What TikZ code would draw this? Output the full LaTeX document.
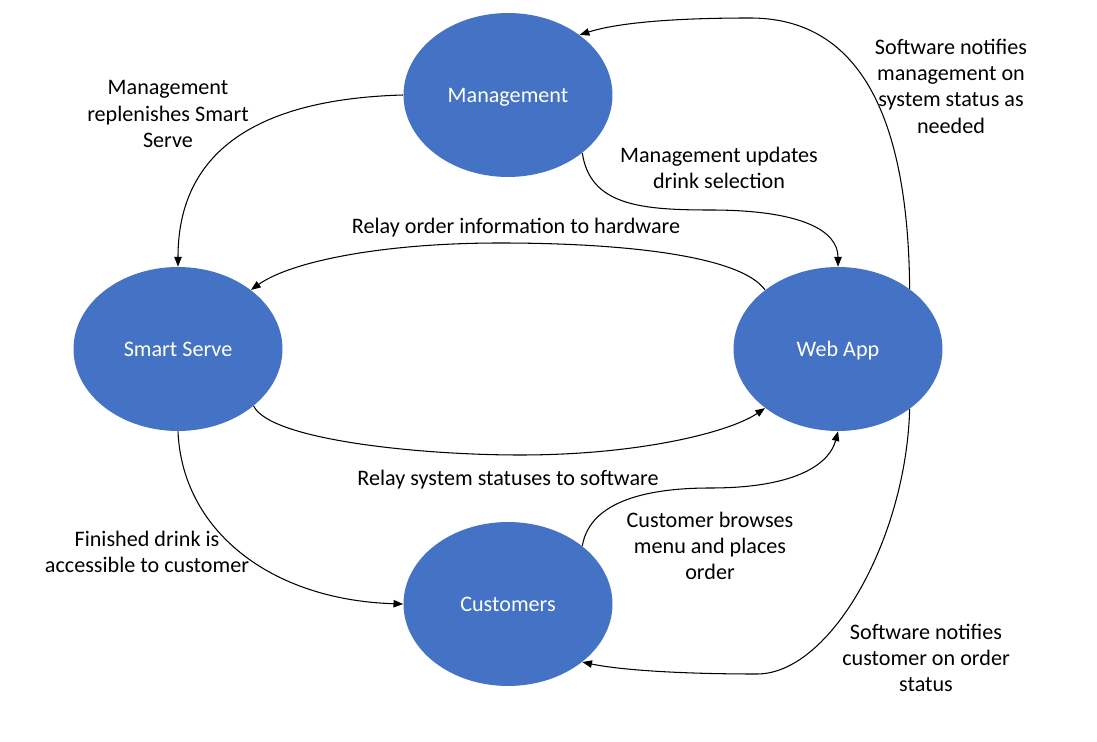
\documentclass[tikz,border=0pt]{standalone}
\usepackage{fontspec}
\setmainfont{Carlito}
\usetikzlibrary{shapes.geometric,arrows.meta}
\definecolor{blob}{RGB}{68,114,196}
\begin{document}
\begin{tikzpicture}[x=0.02cm,y=-0.02cm,
  entity/.style={ellipse,fill=blob,draw=none,minimum width=4.18cm,minimum height=3.28cm,inner sep=0pt,text=white,text height=8pt,text depth=0pt,font=\fontsize{12.6}{15}\selectfont},
  lbl/.style={align=center,inner sep=0pt,font=\fontsize{12.6}{15}\selectfont},
  flow/.style={line width=0.6pt,-{Triangle[length=5.5pt,width=4.2pt]}}]
\useasboundingbox (0,0) rectangle (1097,742);
\node[entity] (mgmt) at (508,95) {Management};
\node[entity] (smart) at (178,349) {Smart Serve};
\node[entity] (web) at (838,349) {Web App};
\node[entity] (cust) at (508,604) {Customers};

\draw[flow] (mgmt.west) .. controls (220,100) and (178,180) .. (smart.north);
\draw[flow] (mgmt.-38) .. controls (590,205) and (640,210) .. (710,210) .. controls (800,210) and (838,230) .. (web.north);
\draw[flow] (web.40) .. controls (908,100) and (850,18) .. (750,18) .. controls (680,18) and (620,22) .. (mgmt.40);
\draw[flow] (web.141) .. controls (740,255) and (620,243) .. (500,243) .. controls (380,243) and (290,262) .. (smart.39);
\draw[flow] (smart.-37) .. controls (270,440) and (420,455) .. (520,455) .. controls (640,455) and (730,432) .. (web.219);
\draw[flow] (cust.38) .. controls (590,500) and (650,488) .. (710,488) .. controls (800,488) and (830,462) .. (web.south);
\draw[flow] (web.-40) .. controls (906,540) and (830,674) .. (757,674) .. controls (680,674) and (620,670) .. (cust.-38);
\draw[flow] (smart.south) .. controls (182,530) and (270,600) .. (cust.west);

\node[lbl] (l1) at (168,114) {Management\\replenishes Smart\\Serve};
\node[lbl] (l2) at (719,168) {Management updates\\drink selection};
\node[lbl] (l3) at (951,86) {Software notifies\\management on\\system status as\\needed};
\node[lbl] (l4) at (516,228) {Relay order information to hardware};
\node[lbl] (l5) at (508,480) {Relay system statuses to software};
\node[lbl] (l6) at (147,552) {Finished drink is\\accessible to customer};
\node[lbl] (l7) at (710,546) {Customer browses\\menu and places\\order};
\node[lbl] (l8) at (926,658) {Software notifies\\customer on order\\status};
\end{tikzpicture}
\end{document}
